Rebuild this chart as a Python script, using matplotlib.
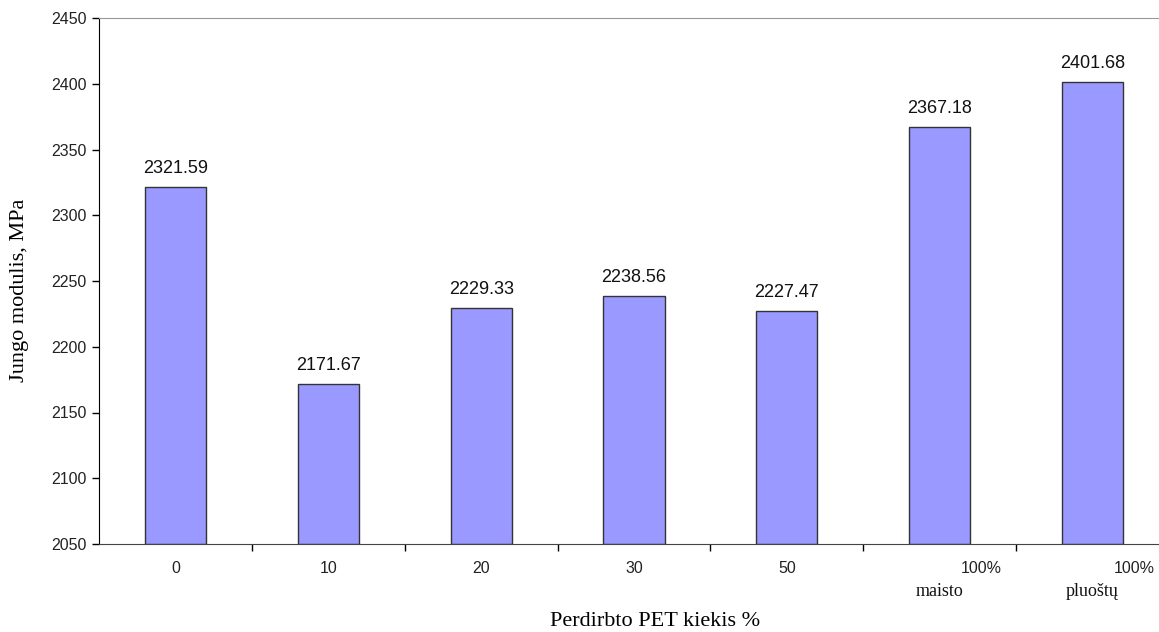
import matplotlib
matplotlib.use("Agg")
import matplotlib.pyplot as plt
from matplotlib.transforms import blended_transform_factory

categories = ["0", "10", "20", "30", "50", "100%", "100%"]
sublabels = ["", "", "", "", "", "maisto", "pluoštų"]
values = [2321.59, 2171.67, 2229.33, 2238.56, 2227.47, 2367.18, 2401.68]
value_labels = ["2321.59", "2171.67", "2229.33", "2238.56", "2227.47", "2367.18", "2401.68"]
yticks = [2050, 2100, 2150, 2200, 2250, 2300, 2350, 2400, 2450]

sans = "Liberation Sans"
serif = "Liberation Serif"

W, H = 1159, 632
fig = plt.figure(figsize=(W / 100, H / 100), dpi=100)
ax_w = 1070
ax = fig.add_axes([99 / W, 1 - 544 / H, ax_w / W, (544 - 18) / H])

x = list(range(len(categories)))
ax.bar(x, [v - 2050 for v in values], bottom=2050, width=0.4,
       color="#9999FF", edgecolor="#333333", linewidth=1.0, zorder=2)

for xi, v, lab in zip(x, values, value_labels):
    ax.annotate(lab, (xi, v), xytext=(0, 7), textcoords="offset points",
                ha="center", va="bottom", fontsize=13, family=sans, color="#111111")

ax.set_xlim(-0.5, len(categories) - 0.5)
ax.set_ylim(2050, 2450)
ax.set_yticks(yticks)
ax.set_yticklabels([str(t) for t in yticks], fontsize=11.5, family=sans, color="#222222")
ax.tick_params(axis="y", direction="out", length=5, width=1, pad=4)

# major ticks at category boundaries
ax.set_xticks([i + 0.5 for i in range(len(categories) - 1)])
ax.set_xticklabels([])
ax.tick_params(axis="x", which="major", direction="out", length=5, width=1)

trans = blended_transform_factory(ax.transData, ax.transAxes)
for xi, cat, sub in zip(x, categories, sublabels):
    if sub:
        ax.text(xi + 0.27, -0.046, cat, transform=trans, ha="center", va="center",
                fontsize=11.5, family=sans, color="#222222")
        ax.text(xi, -0.091, sub, transform=trans, ha="center", va="center",
                fontsize=13, family=serif, color="#111111")
    else:
        ax.text(xi, -0.046, cat, transform=trans, ha="center", va="center",
                fontsize=11.5, family=sans, color="#222222")

ax.spines["right"].set_visible(False)
ax.spines["top"].set_color("#999999")
ax.spines["left"].set_color("#000000")
ax.spines["bottom"].set_color("#444444")

fig.text(20 / W, 1 - 290 / H, "Jungo modulis, MPa", rotation=90, ha="center", va="center",
         fontsize=16, family=serif)
fig.text(655 / W, 1 - 622 / H, "Perdirbto PET kiekis %", ha="center", va="center",
         fontsize=16, family=serif)

fig.savefig("out.png", dpi=100)
